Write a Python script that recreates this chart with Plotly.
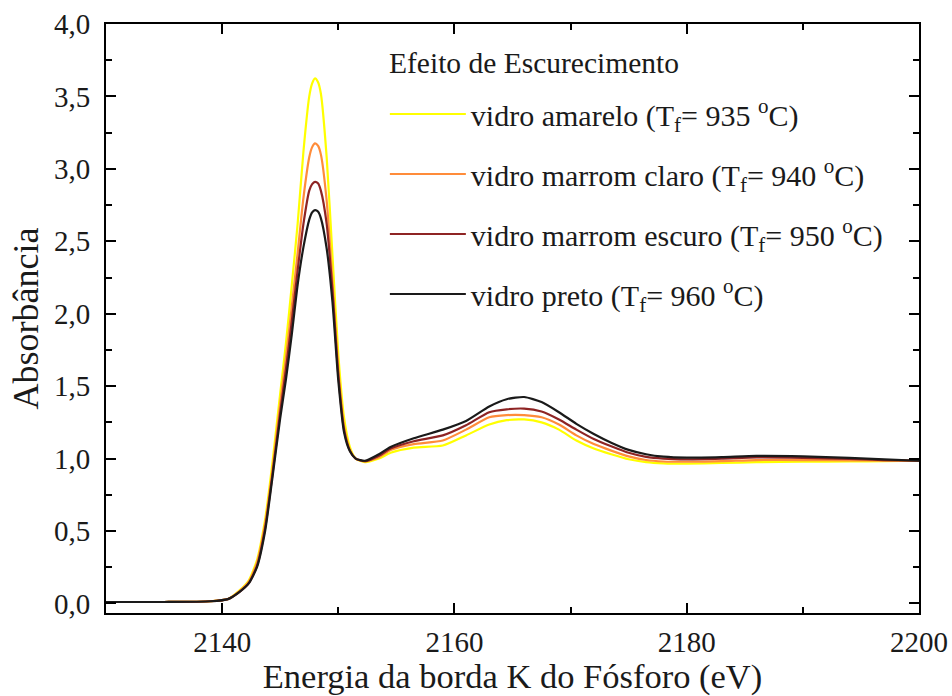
import plotly.graph_objects as go

energia = [2130, 2135, 2139, 2140.5, 2141.5, 2142.3, 2143, 2143.7, 2144.3, 2145, 2145.5,
           2146, 2146.5, 2147, 2147.5, 2147.75, 2148, 2148.25, 2148.5, 2149, 2149.5, 2150,
           2150.5, 2151, 2151.5, 2152.3, 2153.5, 2154.5, 2156.5, 2159, 2161, 2163, 2164.5,
           2166, 2167.5, 2169, 2170.5, 2172, 2173.5, 2175, 2176.5, 2178, 2180, 2183, 2186,
           2190, 2194, 2197, 2200]

amarelo = [0.01, 0.01, 0.015, 0.03, 0.09, 0.16, 0.30, 0.58, 0.95, 1.45, 1.80,
           2.20, 2.62, 3.12, 3.50, 3.59, 3.625, 3.60, 3.52, 3.08, 2.40, 1.72,
           1.28, 1.08, 1.00, 0.975, 1.00, 1.04, 1.075, 1.09, 1.16, 1.235, 1.265,
           1.27, 1.25, 1.20, 1.125, 1.07, 1.03, 0.995, 0.975, 0.967, 0.965, 0.97, 0.975,
           0.978, 0.98, 0.982, 0.985]

marrom_claro = [0.01, 0.01, 0.015, 0.03, 0.085, 0.15, 0.28, 0.55, 0.90, 1.38, 1.70,
                2.05, 2.42, 2.80, 3.08, 3.15, 3.176, 3.16, 3.10, 2.78, 2.22, 1.62,
                1.22, 1.06, 1.00, 0.98, 1.01, 1.06, 1.10, 1.125, 1.20, 1.285, 1.30,
                1.30, 1.285, 1.235, 1.16, 1.10, 1.055, 1.015, 0.99, 0.98, 0.978, 0.982, 0.99,
                0.99, 0.988, 0.986, 0.985]

marrom_escuro = [0.01, 0.01, 0.015, 0.03, 0.08, 0.14, 0.26, 0.52, 0.87, 1.32, 1.62,
                 1.95, 2.30, 2.62, 2.85, 2.895, 2.91, 2.90, 2.85, 2.62, 2.16, 1.58,
                 1.20, 1.055, 1.00, 0.982, 1.02, 1.07, 1.12, 1.16, 1.23, 1.32, 1.34,
                 1.345, 1.325, 1.27, 1.20, 1.135, 1.085, 1.04, 1.012, 1.00, 0.995, 1.00, 1.008,
                 1.005, 0.998, 0.99, 0.985]

preto = [0.01, 0.01, 0.015, 0.03, 0.08, 0.14, 0.25, 0.50, 0.85, 1.28, 1.55,
         1.86, 2.20, 2.46, 2.65, 2.70, 2.715, 2.705, 2.66, 2.45, 2.08, 1.54,
         1.18, 1.05, 1.00, 0.985, 1.03, 1.08, 1.14, 1.20, 1.26, 1.36, 1.41,
         1.425, 1.39, 1.32, 1.24, 1.17, 1.11, 1.06, 1.03, 1.013, 1.006, 1.01, 1.018,
         1.015, 1.005, 0.995, 0.985]

nomes = ["vidro amarelo (T<sub>f</sub>= 935 <sup>o</sup>C)",
         "vidro marrom claro (T<sub>f</sub>= 940 <sup>o</sup>C)",
         "vidro marrom escuro (T<sub>f</sub>= 950 <sup>o</sup>C)",
         "vidro preto (T<sub>f</sub>= 960 <sup>o</sup>C)"]
titulo_legenda = "Efeito de Escurecimento"
cores = ["#FFFF00", "#FF8C3A", "#8E2424", "#1A1A1A"]
series = [amarelo, marrom_claro, marrom_escuro, preto]

FONT = "Liberation Serif, Times New Roman, serif"
TXT = "#1a1a1a"

fig = go.Figure()
for nome, cor, ys in zip(nomes, cores, series):
    fig.add_trace(go.Scatter(x=energia, y=ys, mode="lines", name=nome,
                             legendgroup=nome,
                             line=dict(color=cor, width=2.2, shape="spline", smoothing=0.6)))

axis_common = dict(showline=True, linecolor="black", linewidth=2, mirror="ticks",
                   ticks="inside", ticklen=10, tickwidth=2, tickcolor="black",
                   showgrid=False, zeroline=False, automargin=False,
                   tickfont=dict(family=FONT, size=29, color=TXT))

fig.update_xaxes(range=[2130, 2200], dtick=20, tick0=2140, tickformat="d",
                 minor=dict(dtick=10, tick0=2130, ticks="inside", ticklen=6, tickwidth=2, tickcolor="black"),
                 title=dict(text="Energia da borda K do Fósforo (eV)",
                            font=dict(family=FONT, size=34.5, color=TXT), standoff=6),
                 ticklabelstandoff=2,
                 **axis_common)
fig.update_yaxes(range=[-0.066, 4.0], dtick=0.5, tick0=0, tickformat=".1f",
                 minor=dict(dtick=0.25, tick0=0, ticks="inside", ticklen=6, tickwidth=2, tickcolor="black"),
                 title=dict(text="Absorbância",
                            font=dict(family=FONT, size=36, color=TXT), standoff=4),
                 ticklabelstandoff=8,
                 **axis_common)

fig.add_annotation(text=titulo_legenda, xref="paper", yref="paper",
                   x=(387 - 106) / 813, y=(613 - 63) / 589, xanchor="left", yanchor="middle",
                   showarrow=False, font=dict(family=FONT, size=29.5, color=TXT))

fig.update_layout(
    width=952, height=696,
    margin=dict(l=106, r=33, t=24, b=83),
    paper_bgcolor="white", plot_bgcolor="white",
    separators=",.",
    font=dict(family=FONT, color=TXT),
    legend=dict(
        x=0.343, y=(613 - 88) / 589, xanchor="left", yanchor="top",
        bgcolor="rgba(0,0,0,0)", borderwidth=0,
        font=dict(family=FONT, size=30, color=TXT),
        itemwidth=76, tracegroupgap=18,
    ),
)

fig.write_html("out.html")
